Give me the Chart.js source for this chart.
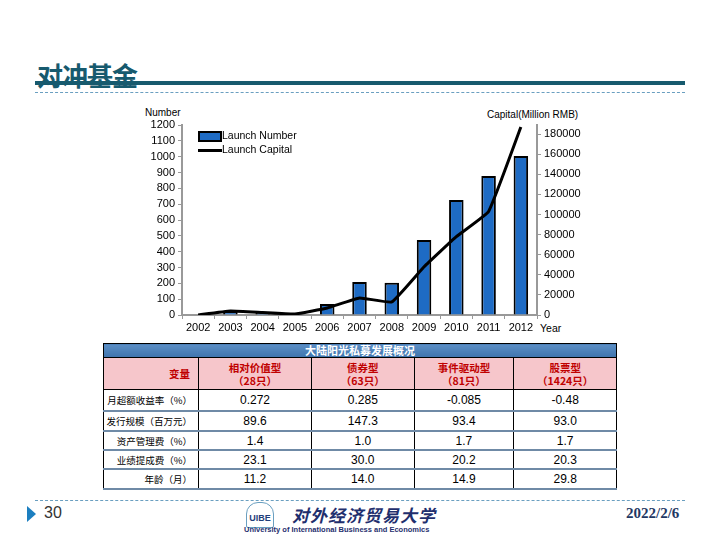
<!DOCTYPE html>
<html>
<head>
<meta charset="utf-8">
<script src="https://cdn.jsdelivr.net/npm/chart.js@4"></script>
<style>
  body { margin: 0; width: 720px; height: 540px; background: #fff; position: relative; overflow: hidden;
         font-family: "Liberation Sans", Arial, sans-serif; }
  .abs { position: absolute; }
  #title { left: 37px; top: 56px; font: bold 26px "Noto Sans CJK SC", sans-serif; color: #175a6e; letter-spacing: -1px; }
  #titleBar { left: 35px; top: 81px; width: 650px; height: 4px; background: #175a6e; }
  .dash { left: 35px; width: 650px; height: 0; border-top: 1px dashed #6a9fc0; }
  #chartBox { left: 130px; top: 100px; width: 470px; height: 240px; }
  .axisLbl { font-size: 10px; color: #000; }
  .legend { font-size: 10.5px; color: #000; }
  table { border-collapse: collapse; font-family: "Noto Sans CJK SC", sans-serif; }
  td { border: 1px solid #000; padding: 0; text-align: center; font-family: "Liberation Sans", Arial, sans-serif; font-size: 12px; line-height: 14px; }
  td.lbl { text-align: right; padding-right: 6px; font-family: "Noto Sans CJK SC", sans-serif; font-size: 9.5px; }
  tr.body td { border-bottom: 2px solid #6f8aa6; }
  tr.head td { background: #f6c6cb; color: #c00000; font-weight: bold; font-family: "Noto Sans CJK SC", sans-serif; font-size: 10.5px; line-height: 13px; }
</style>
</head>
<body>
<div id="title" class="abs">对冲基金</div>
<div id="titleBar" class="abs"></div>
<div class="abs dash" style="top:92px"></div>

<div class="abs axisLbl" style="left:145px; top:107px;">Number</div>
<div class="abs axisLbl" style="left:487px; top:109px;">Capital(Million RMB)</div>
<div class="abs axisLbl" style="left:540px; top:322px; font-size:10.5px;">Year</div>

<div id="chartBox" class="abs"><canvas id="fundChart" width="470" height="240"></canvas></div>

<div class="abs" style="left:198px; top:131px; width:20px; height:7px; background:#1e6bc4; border:2px solid #000;"></div>
<div class="abs legend" style="left:222px; top:129px;">Launch Number</div>
<div class="abs" style="left:198px; top:149px; width:24px; height:3px; background:#000;"></div>
<div class="abs legend" style="left:222px; top:143px;">Launch Capital</div>

<div class="abs" style="left:103px; top:343px;">
  <table id="tbl" style="width:514px;">
    <tr><td colspan="5" id="tblTitle" style="height:13px; background:linear-gradient(#5c8fc6,#3f74ad); color:#fff; font-weight:bold; font-family:'Noto Sans CJK SC',sans-serif; font-size:11px; line-height:13px;"></td></tr>
  </table>
</div>

<div class="abs dash" style="top:500px"></div>
<div class="abs" style="left:27px; top:506px; width:0; height:0; border-top:8px solid transparent; border-bottom:8px solid transparent; border-left:9px solid #1c7fc0;"></div>
<div class="abs" style="left:44px; top:504px; font: 16px 'Liberation Sans Narrow','Liberation Sans',sans-serif; color:#333;">30</div>
<div class="abs" style="left:246px; top:502px; width:26px; height:24px; border:1px solid #6a9fc0; border-radius:12px 12px 2px 2px; font:bold 9px 'Liberation Sans',sans-serif; color:#1f3e7a; text-align:center; line-height:30px;">UIBE</div>
<div class="abs" style="left:292px; top:502px; font: italic bold 17px 'Noto Sans CJK SC',sans-serif; color:#1f2f6e; letter-spacing:1px;">对外经济贸易大学</div>
<div class="abs" style="left:244px; top:525px; font: bold 7.5px 'Liberation Sans',sans-serif; color:#1f2f6e;">University of International Business and Economics</div>
<div class="abs" style="left:626px; top:505px; font: bold 15px 'Liberation Serif',serif; color:#1f3864;">2022/2/6</div>

<script>
// chart data
const years = ['2002','2003','2004','2005','2006','2007','2008','2009','2010','2011','2012'];
const launchNumber = [3, 20, 15, 5, 69, 208, 203, 474, 726, 878, 1004];
const launchCapital = [0, 4000, 2500, 1000, 7000, 17000, 13000, 48000, 78000, 103000, 187000];
const leftTicks = [0, 100, 200, 300, 400, 500, 600, 700, 800, 900, 1000, 1100, 1200];
const rightTicks = [0, 20000, 40000, 60000, 80000, 100000, 120000, 140000, 160000, 180000];

// table data
const tableTitle = '大陆阳光私募发展概况';
const tableHeads = ['相对价值型<br>（28只）', '债券型<br>（63只）', '事件驱动型<br>（81只）', '股票型<br>（1424只）'];
const rowLabels = ['月超额收益率（%）', '发行规模（百万元）', '资产管理费（%）', '业绩提成费（%）', '年龄（月）'];
const rowValues = [
  ['0.272', '0.285', '-0.085', '-0.48'],
  ['89.6', '147.3', '93.4', '93.0'],
  ['1.4', '1.0', '1.7', '1.7'],
  ['23.1', '30.0', '20.2', '20.3'],
  ['11.2', '14.0', '14.9', '29.8']
];
const rowHeights = [20, 18, 17, 17, 18];

function buildTable() {
  const tbl = document.getElementById('tbl');
  document.getElementById('tblTitle').textContent = tableTitle;
  let html = '<tr class="head"><td style="height:31px; width:88px; text-align:right; padding-right:8px;">变量</td>';
  const widths = [115, 104, 101, 104];
  tableHeads.forEach((h, i) => { html += '<td style="width:' + widths[i] + 'px">' + h + '</td>'; });
  html += '</tr>';
  rowLabels.forEach((lbl, r) => {
    html += '<tr class="body"><td class="lbl" style="height:' + rowHeights[r] + 'px">' + lbl + '</td>';
    rowValues[r].forEach(v => { html += '<td>' + v + '</td>'; });
    html += '</tr>';
  });
  tbl.insertAdjacentHTML('beforeend', html);
}
buildTable();

const tickFont = { family: '"Liberation Sans", Arial, sans-serif', size: 11 };
const plainNum = v => String(v);

new Chart(document.getElementById('fundChart'), {
  type: 'bar',
  data: {
    labels: years,
    datasets: [{
      type: 'line',
      label: 'Launch Capital',
      data: launchCapital,
      yAxisID: 'yR',
      borderColor: '#000',
      borderWidth: 3,
      pointRadius: 0,
      tension: 0.1,
      order: 0
    }, {
      label: 'Launch Number',
      data: launchNumber,
      yAxisID: 'yL',
      backgroundColor: '#1e6bc4',
      borderColor: '#000',
      borderWidth: 2,
      categoryPercentage: 1,
      barPercentage: 0.45,
      order: 1
    }]
  },
  options: {
    responsive: false,
    animation: false,
    layout: { padding: { top: 25, left: 0, right: 0, bottom: 0 } },
    plugins: { legend: { display: false }, tooltip: { enabled: false } },
    scales: {
      x: {
        ticks: { color: '#000', font: tickFont, maxRotation: 0, autoSkip: false, padding: 2 },
        grid: { drawOnChartArea: false, color: '#999', tickLength: 4 },
        border: { color: '#999', width: 2 },
        afterFit: s => { s.height = 25; }
      },
      yL: {
        position: 'left',
        min: 0, max: 1200,
        ticks: { autoSkip: false, callback: plainNum, color: '#000', font: tickFont, padding: 3 },
        afterBuildTicks: s => { s.ticks = leftTicks.map(v => ({ value: v })); },
        grid: { drawOnChartArea: false, color: '#999', tickLength: 4 },
        border: { color: '#999', width: 2 },
        afterFit: s => { s.width = 52; }
      },
      yR: {
        position: 'right',
        min: 0, max: 189000,
        ticks: { autoSkip: false, callback: plainNum, color: '#000', font: tickFont, padding: 3 },
        afterBuildTicks: s => { s.ticks = rightTicks.map(v => ({ value: v })); },
        grid: { drawOnChartArea: false, color: '#999', tickLength: 4 },
        border: { color: '#999', width: 2 },
        afterFit: s => { s.width = 63; }
      }
    }
  }
});
</script>
</body>
</html>
